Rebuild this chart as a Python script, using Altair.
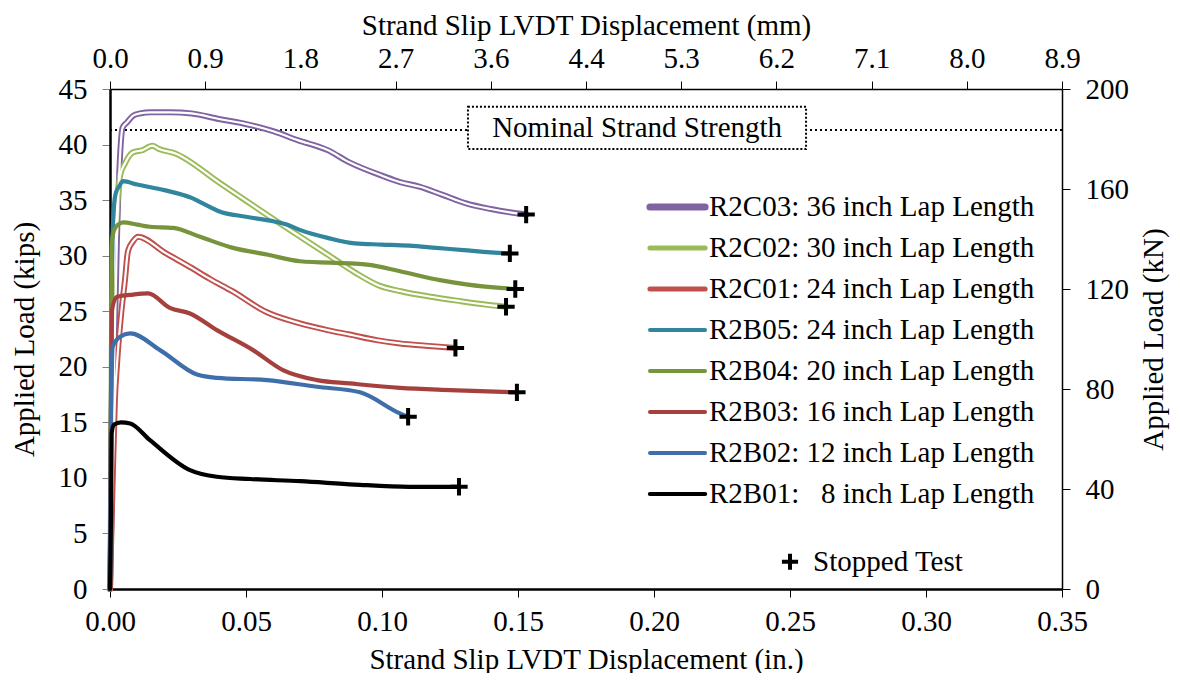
import altair as alt
import pandas as pd

# ---------------- data ----------------
SERIES = ["R2C03", "R2C02", "R2C01", "R2B05", "R2B04", "R2B03", "R2B02", "R2B01"]
LABELS = [
    "R2C03: 36 inch Lap Length",
    "R2C02: 30 inch Lap Length",
    "R2C01: 24 inch Lap Length",
    "R2B05: 24 inch Lap Length",
    "R2B04: 20 inch Lap Length",
    "R2B03: 16 inch Lap Length",
    "R2B02: 12 inch Lap Length",
    "R2B01:\u00a0\u00a0\u00a08 inch Lap Length",
]
COLORS = ["#8064A2", "#9BBB59", "#C0504D", "#31859C", "#77933C", "#A5403D", "#3F6FAA", "#000000"]
LEGEND_WIDTHS = [7, 5, 5, 3.8, 3.8, 3.8, 3.8, 4.2]
DOUBLE_LINE = ["R2C03", "R2C02", "R2C01"]

R2C03_X = [0, 0.0008, 0.0016, 0.0025, 0.0035, 0.0046, 0.0063, 0.0085, 0.011, 0.015, 0.022, 0.030,
           0.040, 0.049, 0.060, 0.069, 0.080, 0.088, 0.100, 0.107, 0.114, 0.122, 0.131, 0.140, 0.147, 0.153]
R2C03_Y = [0, 10.0, 21.0, 31.0, 38.0, 41.5, 42.0, 42.6, 42.8, 42.9, 42.9, 42.8,
           42.3, 41.9, 41.2, 40.4, 39.5, 38.4, 37.2, 36.6, 36.2, 35.5, 34.7, 34.2, 33.9, 33.7]

R2C02_X = [0, 0.0006, 0.0011, 0.0025, 0.0037, 0.0055, 0.0085, 0.012, 0.0155, 0.018, 0.024, 0.040,
           0.060, 0.080, 0.090, 0.099, 0.107, 0.118, 0.129, 0.138, 0.1456]
R2C02_Y = [0, 12.0, 26.9, 34.0, 37.2, 38.3, 39.3, 39.5, 39.9, 39.6, 39.2, 36.6,
           33.3, 30.1, 28.5, 27.3, 26.8, 26.3, 25.9, 25.6, 25.4]

R2C01_X = [0, 0.0008, 0.0018, 0.0026, 0.004, 0.0055, 0.0066, 0.0085, 0.0103, 0.020, 0.030, 0.0368,
           0.045, 0.0577, 0.0699, 0.080, 0.0882, 0.098, 0.1066, 0.116, 0.127]
R2C01_Y = [0, 8.0, 17.0, 20.3, 24.5, 27.8, 30.4, 31.3, 31.7, 30.3, 28.9, 27.9,
           26.8, 24.9, 23.9, 23.3, 22.9, 22.4, 22.1, 21.9, 21.7]

R2B05_X = [0, 0.0003, 0.0007, 0.0012, 0.002, 0.0035, 0.0048, 0.010, 0.020, 0.030, 0.035, 0.040,
           0.050, 0.060, 0.065, 0.070, 0.080, 0.090, 0.100, 0.110, 0.120, 0.130, 0.140, 0.147]
R2B05_Y = [0, 15.0, 28.0, 33.5, 35.5, 36.3, 36.7, 36.4, 35.9, 35.2, 34.6, 34.0,
           33.5, 33.1, 32.8, 32.3, 31.6, 31.1, 31.0, 30.9, 30.7, 30.5, 30.3, 30.2]

R2B04_X = [0, 0.0003, 0.0006, 0.0015, 0.003, 0.0048, 0.010, 0.0147, 0.0232, 0.0331, 0.0452, 0.0577,
           0.0699, 0.0882, 0.0945, 0.1066, 0.1213, 0.1316, 0.1434, 0.149]
R2B04_Y = [0, 18.0, 31.0, 32.3, 32.8, 33.0, 32.8, 32.6, 32.5, 31.7, 30.7, 30.1,
           29.5, 29.3, 29.2, 28.6, 27.8, 27.4, 27.1, 27.0]

R2B03_X = [0, 0.0003, 0.0007, 0.0026, 0.0085, 0.014, 0.022, 0.0294, 0.0393, 0.0526, 0.0636, 0.0761,
           0.0882, 0.1066, 0.125, 0.1496]
R2B03_Y = [0, 15.0, 25.1, 26.3, 26.5, 26.6, 25.3, 24.8, 23.3, 21.5, 19.7, 18.8,
           18.5, 18.1, 17.9, 17.7]

R2B02_X = [0, 0.0002, 0.0004, 0.001, 0.0037, 0.0074, 0.0184, 0.032, 0.0393, 0.0577, 0.076, 0.0919,
           0.1066, 0.1096]
R2B02_Y = [0, 8.0, 15.8, 21.8, 22.7, 23.0, 21.5, 19.3, 19.0, 18.8, 18.2, 17.7,
           15.8, 15.5]

R2B01_X = [0, 0.0004, 0.0006, 0.0015, 0.004, 0.0074, 0.0147, 0.0294, 0.0393, 0.0515, 0.070, 0.090,
           0.110, 0.1283]
R2B01_Y = [0, 7.0, 14.0, 14.8, 15.0, 14.9, 13.4, 10.7, 10.1, 9.9, 9.7, 9.4,
           9.2, 9.2]

SERIES_X = [R2C03_X, R2C02_X, R2C01_X, R2B05_X, R2B04_X, R2B03_X, R2B02_X, R2B01_X]
SERIES_Y = [R2C03_Y, R2C02_Y, R2C01_Y, R2B05_Y, R2B04_Y, R2B03_Y, R2B02_Y, R2B01_Y]

# axes
X_TICKS = [0, 0.05, 0.10, 0.15, 0.20, 0.25, 0.30, 0.35]
Y_TICKS = [0, 5, 10, 15, 20, 25, 30, 35, 40, 45]
MM_LABELS = ["0.0", "0.9", "1.8", "2.7", "3.6", "4.4", "5.3", "6.2", "7.1", "8.0", "8.9"]
MM_PER_TICK = 0.889
KN_TICKS = [0, 40, 80, 120, 160, 200]
KN_MAX = 45 * 4.44822

# annotations (in data units)
NOMINAL_STRENGTH = [41.3]
NOMINAL_LABEL = ["Nominal Strand Strength"]
NOMINAL_BOX_X = [0.1316, 0.2559]
NOMINAL_BOX_Y = [39.6, 43.4]
NOMINAL_TEXT_POS = [0.1938, 41.45]
STOPPED_LABEL = ["Stopped Test"]
STOPPED_POS = [0.25, 2.45]
STOPPED_TEXT_X = [0.2585]
LEGEND_LINE_X = [0.1985, 0.2188]
LEGEND_TEXT_X = 0.2202
LEGEND_TOP_Y = 34.38
LEGEND_STEP_Y = 3.69

FONT = "Liberation Serif"
FS = 29

# ---------------- build tables ----------------
rows = []
for s, lab, xs, ys in zip(SERIES, LABELS, SERIES_X, SERIES_Y):
    kind = "C" if s in DOUBLE_LINE else "B"
    for i, (xv, yv) in enumerate(zip(xs, ys)):
        rows.append({"series": s, "label": lab, "kind": kind, "x": xv, "y": yv, "i": i})
df = pd.DataFrame(rows)
ends = pd.DataFrame([{"x": xs[-1], "y": ys[-1]} for xs, ys in zip(SERIES_X, SERIES_Y)])
leg_df = pd.DataFrame({
    "label": LABELS,
    "w": LEGEND_WIDTHS,
    "x": [LEGEND_LINE_X[0]] * len(LABELS),
    "x2": [LEGEND_LINE_X[1]] * len(LABELS),
    "xt": [LEGEND_TEXT_X] * len(LABELS),
    "y": [LEGEND_TOP_Y - LEGEND_STEP_Y * k for k in range(len(LABELS))],
})

xscale = alt.Scale(domain=[0, 0.35], nice=False, zero=False)
yscale = alt.Scale(domain=[0, 45], nice=False, zero=False)

bottom_axis = alt.Axis(values=X_TICKS, format=".2f", title="Strand Slip LVDT Displacement (in.)",
                       domainWidth=2.5, tickSize=8, tickWidth=1, labelPadding=10, titlePadding=9,
                       labelFlush=False)
left_axis = alt.Axis(values=Y_TICKS, format="d", title="Applied Load (kips)",
                     domainWidth=2.5, tickSize=8, tickWidth=1, tickColor="#808080",
                     labelPadding=15, titlePadding=19)

X = alt.X("x:Q", scale=xscale, axis=bottom_axis)
Y = alt.Y("y:Q", scale=yscale, axis=left_axis)
color = alt.Color("label:N", scale=alt.Scale(domain=LABELS, range=COLORS), legend=None)

c_df = df[df["kind"] == "C"]
b_df = df[df["kind"] == "B"]

c_lines = alt.Chart(c_df).mark_line(interpolate="monotone", strokeWidth=6,
                                    strokeCap="round", strokeJoin="round").encode(
    x=X, y=Y, color=color, detail="series:N", order="i:Q")
c_inner = alt.Chart(c_df).mark_line(interpolate="monotone", strokeWidth=2.2,
                                    strokeCap="round", strokeJoin="round").encode(
    x=X, y=Y, color=alt.value("white"), detail="series:N", order="i:Q")
b_lines = alt.Chart(b_df).mark_line(interpolate="monotone", strokeWidth=4.2,
                                    strokeCap="round", strokeJoin="round").encode(
    x=X, y=Y, color=color, detail="series:N", order="i:Q")

PLUS = "M-1,0L1,0M0,-1L0,1"
end_marks = alt.Chart(ends).mark_point(shape=PLUS, size=300, strokeWidth=4,
                                       color="black", filled=False, opacity=1).encode(x=X, y=Y)

nominal_rule = alt.Chart(pd.DataFrame({"y": NOMINAL_STRENGTH})).mark_rule(
    color="black", strokeWidth=2, strokeDash=[2, 3]).encode(y=Y)

box_df = pd.DataFrame({"x": [NOMINAL_BOX_X[0]], "x2": [NOMINAL_BOX_X[1]],
                       "y": [NOMINAL_BOX_Y[0]], "y2": [NOMINAL_BOX_Y[1]]})
nominal_box = alt.Chart(box_df).mark_rect(fill="white", stroke="black", strokeWidth=2,
                                          strokeDash=[2, 2]).encode(
    x=X, x2="x2:Q", y=Y, y2="y2:Q")
nominal_text = alt.Chart(pd.DataFrame({"x": [NOMINAL_TEXT_POS[0]], "y": [NOMINAL_TEXT_POS[1]],
                                       "t": NOMINAL_LABEL})).mark_text(
    font=FONT, fontSize=FS, align="center", baseline="middle", color="black").encode(
    x=X, y=Y, text="t:N")

# legend drawn by hand
leg_lines = alt.Chart(leg_df).mark_rule(strokeCap="round").encode(
    x=X, x2="x2:Q", y=Y, color=color,
    strokeWidth=alt.StrokeWidth("w:Q", scale=None, legend=None))
leg_text = alt.Chart(leg_df).mark_text(font=FONT, fontSize=FS, align="left", baseline="middle",
                                       color="black").encode(
    x=alt.X("xt:Q", scale=xscale, axis=bottom_axis), y=Y, text="label:N")

stop_mark = alt.Chart(pd.DataFrame({"x": [STOPPED_POS[0]], "y": [STOPPED_POS[1]]})).mark_point(
    shape=PLUS, size=260, strokeWidth=4, color="black", filled=False, opacity=1).encode(x=X, y=Y)
stop_text = alt.Chart(pd.DataFrame({"x": STOPPED_TEXT_X, "y": [STOPPED_POS[1]],
                                    "t": STOPPED_LABEL})).mark_text(
    font=FONT, fontSize=FS, align="left", baseline="middle", color="black").encode(
    x=X, y=Y, text="t:N")

inner = alt.layer(nominal_rule, nominal_box, nominal_text, c_lines, c_inner, b_lines,
                  end_marks, leg_lines, leg_text, stop_mark, stop_text)

# secondary axes (mm on top, kN on right)
sec_df = pd.DataFrame({"mm": [0, MM_PER_TICK * 10], "kN": [0, KN_MAX]})
mm_ticks = [round(MM_PER_TICK * i, 4) for i in range(len(MM_LABELS))]
label_expr = "[" + ",".join("'" + s + "'" for s in MM_LABELS) + "][round(datum.value/" + str(MM_PER_TICK) + ")]"
secondary = alt.Chart(sec_df).mark_point(opacity=0).encode(
    x=alt.X("mm:Q", scale=alt.Scale(domain=[0, MM_PER_TICK * 10], nice=False, zero=False),
            axis=alt.Axis(orient="top", values=mm_ticks, labelExpr=label_expr,
                          title="Strand Slip LVDT Displacement (mm)", domainWidth=1.5,
                          tickSize=8, tickWidth=1, labelPadding=8, titlePadding=4,
                          labelFlush=False)),
    y=alt.Y("kN:Q", scale=alt.Scale(domain=[0, KN_MAX], nice=False, zero=False),
            axis=alt.Axis(orient="right", values=KN_TICKS, format="d", title="Applied Load (kN)",
                          domainWidth=1.5, tickSize=8, tickWidth=1, labelPadding=15,
                          titlePadding=11, titleAngle=270, titleBaseline="top")),
)

chart = alt.layer(inner, secondary).resolve_scale(x="independent", y="independent").properties(
    width=952, height=500,
    autosize=alt.AutoSizeParams(type="none"),
    padding={"left": 102, "top": 81, "right": 110, "bottom": 84},
).configure(font=FONT).configure_axis(
    labelFont=FONT, titleFont=FONT, labelFontSize=FS, titleFontSize=FS,
    titleFontWeight="normal", labelColor="black", titleColor="black",
    grid=False, tickColor="black", domainColor="black",
).configure_view(stroke=None)

chart.save("out.html", embed_options={"renderer": "svg", "actions": False})
